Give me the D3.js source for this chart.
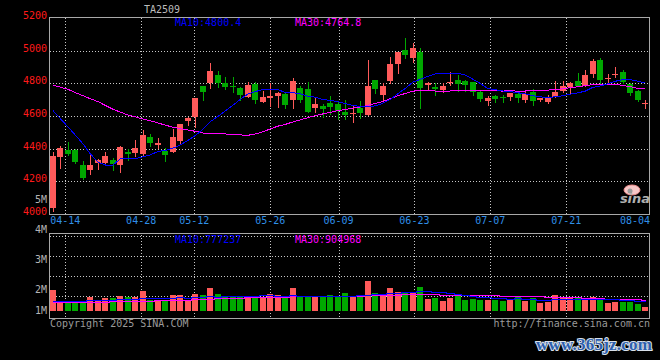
<!DOCTYPE html>
<html>
<head>
<meta charset="utf-8">
<script src="https://cdn.jsdelivr.net/npm/d3@7"></script>
<style>
  body { margin: 0; background: #000; }
  svg text { font-family: "DejaVu Sans Mono", monospace; font-size: 10px; }
</style>
</head>
<body>
<svg id="chart" width="660" height="360"></svg>
<script>
// daily bars, 04-10 .. 08-05
const open  = [4037,4351,4392,4392,4300,4269,4310,4310,4331,4303,4381,4375,4367,4471,4422,4388,4381,4449,4571,4596,
               4784,4804,4851,4800,4784,4773,4718,4796,4688,4708,4722,4732,4698,4770,4765,4647,4661,4678,4673,4626,
               4612,4647,4606,4820,4729,4814,4918,5004,4958,4992,4787,4777,4759,4800,4820,4814,4808,4749,4694,4722,
               4718,4718,4735,4698,4749,4698,4688,4718,4755,4779,4814,4784,4857,4943,4828,4855,4871,4796,4753,4680];
const high  = [4381,4418,4441,4396,4326,4365,4339,4378,4341,4416,4396,4453,4514,4490,4465,4404,4520,4551,4592,4712,
               4784,4926,4875,4837,4837,4780,4810,4810,4753,4804,4749,4747,4833,4784,4810,4718,4673,4722,4692,4698,
               4661,4692,4943,4820,4800,4963,4994,5077,5047,5016,4808,4799,4800,4871,4851,4820,4808,4759,4722,4729,
               4729,4741,4744,4759,4763,4712,4729,4814,4814,4810,4861,4882,4949,4957,4857,4902,4882,4800,4759,4698];
const low   = [4018,4283,4361,4310,4214,4245,4277,4310,4269,4259,4330,4355,4361,4416,4404,4326,4377,4429,4547,4535,
               4698,4770,4776,4763,4749,4698,4718,4680,4688,4661,4657,4652,4652,4688,4626,4624,4591,4615,4584,4584,
               4565,4588,4606,4743,4698,4800,4861,4953,4932,4647,4759,4729,4749,4790,4753,4753,4731,4692,4667,4688,
               4688,4700,4688,4688,4667,4692,4680,4718,4750,4735,4784,4784,4841,4800,4811,4837,4800,4729,4692,4651];
const close = [4355,4406,4367,4320,4222,4302,4331,4355,4306,4412,4367,4406,4484,4435,4435,4361,4471,4551,4590,4712,
               4749,4875,4800,4776,4776,4729,4790,4698,4718,4724,4741,4667,4814,4698,4626,4673,4645,4653,4631,4606,
               4621,4620,4784,4765,4785,4918,4994,4973,5016,4771,4799,4768,4784,4806,4796,4790,4749,4704,4712,4704,
               4712,4741,4708,4735,4692,4712,4710,4749,4784,4800,4786,4851,4937,4820,4833,4859,4810,4741,4698,4682];

const ma10 = [4633,4583,4533,4482,4429,4367,4318,4300,4300,4337.6,4338.8,4338.8,4350.5,4362.0,4383.3,4389.2,4403.2,4422.8,4451.2,4481.2,
              4519.4,4566.3,4597.9,4632.0,4666.1,4702.9,4734.8,4749.5,4762.3,4763.5,4762.7,4741.9,4743.3,4735.5,4720.5,4714.9,4700.4,4695.9,4687.2,4675.4,
              4663.4,4658.7,4655.7,4662.4,4678.3,4702.8,4737.7,4769.7,4808.2,4824.7,4842.5,4857.3,4857.3,4861.4,4862.5,4849.7,4825.2,4798.3,4767.9,4761.2,
              4752.5,4749.8,4742.2,4735.1,4724.7,4716.9,4713.0,4717.5,4724.7,4734.3,4741.7,4752.7,4775.6,4784.1,4798.2,4812.9,4822.9,4822.1,4813.5,4800.4];
const ma30 = [4789,4776,4763,4743,4724,4705,4688,4664,4641,4624,4606,4594,4582,4571,4557,4544,4531,4522,4514,4506,
              4496,4493,4492,4490,4487,4484,4482,4490,4503,4522,4538,4549.0,4563.9,4576.5,4590.0,4602.3,4612.8,4622.7,4633.6,4640.0,
              4648.5,4655.6,4665.6,4676.6,4688.3,4706.9,4724.3,4738.4,4752.6,4754.5,4756.2,4752.6,4752.1,4753.1,4753.8,4755.8,4754.4,4754.6,4754.4,4753.8,
              4752.8,4755.3,4751.7,4753.0,4755.2,4756.5,4758.6,4761.8,4766.9,4773.4,4778.9,4786.6,4791.7,4793.5,4795.1,4793.2,4787.0,4779.3,4768.7,4764.8];

// volume in thousands of lots
const volume = [1670,790,610,790,790,1130,790,1010,1010,1210,1130,1130,1590,870,870,870,1270,1270,870,1350,
                1270,1800,1350,1190,1190,1130,1130,1010,1010,1350,1270,1010,1850,1130,1130,1130,1130,1270,1210,1430,
                1210,1210,2380,1430,1270,1830,1530,1530,1400,1900,950,1060,790,1060,1190,870,950,870,870,870,
                790,950,1130,790,1010,660,740,1270,1060,1060,1130,950,1130,870,660,740,740,690,560,340];
const volMa10 = [800,800,800,820,820,850,850,880,900,920,940,970,1020,1040,1050,1030,1060,1090,1070,1090,
                 1100,1170,1140,1170,1200,1220,1210,1220,1240,1240,1230,1200,1250,1220,1220,1210,1190,1220,1220,1230,
                 1220,1240,1270,1330,1340,1410,1450,1490,1540,1600,1550,1510,1470,1390,1370,1280,1220,1150,1110,1010,
                 1000,990,1000,950,930,900,890,930,950,970,980,980,990,970,940,950,910,860,810,777.237];
const volMa30 = [700,700,710,720,720,730,740,750,760,770,780,800,820,830,840,860,880,900,910,930,
                 950,980,1000,1020,1040,1060,1080,1090,1100,1120,1130,1140,1170,1180,1190,1200,1200,1210,1210,1220,
                 1220,1220,1260,1270,1270,1290,1300,1310,1310,1330,1320,1310,1300,1300,1300,1290,1280,1270,1250,1240,
                 1230,1220,1220,1200,1190,1170,1150,1140,1120,1100,1080,1060,1050,1020,990,970,950,930,920,904.968];

const tickLabels = ["04-14","04-28","05-12","05-26","06-09","06-23","07-07","07-21","08-04"];
const tickIndex  = [2,12,19,29,38,48,58,68,78];
const priceTicks = [4000,4200,4400,4600,4800,5000,5200];
const volLabels  = ["1M","2M","3M","4M","5M"];
const volLabelValues = [1,2,3,4,5];

const RED = "#ff5a5a", GREEN = "#00a800", GRID = "#c8c8c8", FRAME = "#a8a8a8";
const svg = d3.select("#chart");
svg.append("rect").attr("width", 660).attr("height", 360).attr("fill", "#000");

const idx = d3.range(close.length);
const x = d3.scaleBand().domain(idx).range([49.25, 649.25]).paddingInner(0.2).paddingOuter(0.1);
const cx = i => x(i) + x.bandwidth() / 2;
const xGrid = d3.scaleLinear().domain([0, 79]).range([50.1, 649.7]);
const y = d3.scaleLinear().domain([4000, 5200]).range([214, 18]);
const yVol = d3.scaleLinear().domain([0, 6000]).range([311, 235.4]);
const yVolLabel = d3.scaleLinear().domain([1, 2, 3, 4, 5]).range([311, 290, 260, 230, 200]);
const yVolGrid = d3.scaleLinear().domain([0, 4]).range([315.5, 235.5]);

const px = v => Math.round(v) + 0.5;

// grids
const grid = svg.append("g").attr("stroke", GRID).attr("stroke-dasharray", "1,2").attr("shape-rendering", "crispEdges");
priceTicks.filter(d => d > 4000 && d < 5200).forEach(p => {
  grid.append("line").attr("x1", 50).attr("x2", 650).attr("y1", px(y(p))).attr("y2", px(y(p)));
});
[1, 2, 3, 4].forEach(g => {
  grid.append("line").attr("x1", 50).attr("x2", 650).attr("y1", px(yVolGrid(g))).attr("y2", px(yVolGrid(g)));
});
tickIndex.slice(0, -1).forEach(i => {
  grid.append("line").attr("x1", px(xGrid(i))).attr("x2", px(xGrid(i))).attr("y1", 18).attr("y2", 214);
  grid.append("line").attr("x1", px(xGrid(i))).attr("x2", px(xGrid(i))).attr("y1", 235).attr("y2", 318);
});

// frames
const frame = svg.append("g").attr("fill", "none").attr("stroke", FRAME).attr("shape-rendering", "crispEdges");
frame.append("rect").attr("x", 49.5).attr("y", 17.5).attr("width", 600).attr("height", 196.5);
frame.append("rect").attr("x", 49.5).attr("y", 233.5).attr("width", 600).attr("height", 84.5);

// candles
const col = i => close[i] >= open[i] ? RED : GREEN;
const cg = svg.append("g").attr("shape-rendering", "crispEdges");
idx.forEach(i => {
  const c = Math.floor(cx(i));
  cg.append("line").attr("x1", c + 0.5).attr("x2", c + 0.5)
    .attr("y1", Math.round(y(high[i]))).attr("y2", Math.round(y(low[i])) + 1)
    .attr("stroke", col(i));
  const top = Math.round(y(Math.max(open[i], close[i])));
  const bot = Math.round(y(Math.min(open[i], close[i])));
  cg.append("rect").attr("x", c - 3).attr("width", 6)
    .attr("y", top).attr("height", Math.max(1, bot - top))
    .attr("fill", col(i));
});

// price MAs
const lineP = arr => d3.line().x((d, i) => cx(i)).y(d => y(d))(arr);
svg.append("path").attr("d", lineP(ma30)).attr("fill", "none").attr("stroke", "#ff00ff").attr("stroke-width", 1).attr("shape-rendering", "crispEdges");
svg.append("path").attr("d", lineP(ma10)).attr("fill", "none").attr("stroke", "#0000ff").attr("stroke-width", 1).attr("shape-rendering", "crispEdges");

// volume bars
const vg = svg.append("g").attr("shape-rendering", "crispEdges");
idx.forEach(i => {
  const c = Math.floor(cx(i));
  const t = Math.round(yVol(volume[i]));
  vg.append("rect").attr("x", c - 3).attr("width", 6).attr("y", t).attr("height", 311 - t).attr("fill", col(i));
});
const lineV = arr => d3.line().x((d, i) => cx(i)).y(d => Math.round(yVol(d)) + 0.5).curve(d3.curveStep)(arr);
svg.append("path").attr("d", lineV(volMa30)).attr("fill", "none").attr("stroke", "#ff00ff").attr("stroke-width", 1).attr("shape-rendering", "crispEdges");
svg.append("path").attr("d", lineV(volMa10)).attr("fill", "none").attr("stroke", "#0000ff").attr("stroke-width", 1).attr("shape-rendering", "crispEdges");

// axis labels
svg.append("g").selectAll("text").data(priceTicks).join("text")
  .attr("x", 47).attr("y", d => y(d) - 2).attr("text-anchor", "end").attr("dominant-baseline", "middle")
  .attr("fill", "#ff1a1a").text(d => d);
svg.append("g").selectAll("text").data(volLabelValues).join("text")
  .attr("x", 47).attr("y", d => yVolLabel(d)).attr("text-anchor", "end").attr("dominant-baseline", "middle")
  .attr("fill", "#b4b4b4").text((d, i) => volLabels[i]);
svg.append("g").selectAll("text").data(tickIndex).join("text")
  .attr("x", d => Math.max(65, Math.min(635, xGrid(d)))).attr("y", 221)
  .attr("text-anchor", "middle").attr("dominant-baseline", "middle")
  .attr("fill", "#2f8fe8").text((d, i) => tickLabels[i]);

// legends
svg.append("text").attr("x", 162).attr("y", 10).attr("text-anchor", "middle").attr("dominant-baseline", "middle")
  .attr("fill", "#bbb").text("TA2509");
svg.append("text").attr("x", 175).attr("y", 23).attr("dominant-baseline", "middle").attr("fill", "#0000ff")
  .text("MA10:" + ma10[ma10.length - 1].toFixed(1));
svg.append("text").attr("x", 295).attr("y", 23).attr("dominant-baseline", "middle").attr("fill", "#ff00ff")
  .text("MA30:" + ma30[ma30.length - 1].toFixed(1));
svg.append("text").attr("x", 175).attr("y", 239.5).attr("dominant-baseline", "middle").attr("fill", "#0000ff")
  .text("MA10:" + Math.round(volMa10[volMa10.length - 1] * 1000));
svg.append("text").attr("x", 295).attr("y", 239.5).attr("dominant-baseline", "middle").attr("fill", "#ff00ff")
  .text("MA30:" + Math.round(volMa30[volMa30.length - 1] * 1000));

svg.append("text").attr("x", 50).attr("y", 324).attr("dominant-baseline", "middle").attr("fill", "#9a9a9a")
  .text("Copyright 2025 SINA.COM");
svg.append("text").attr("x", 650).attr("y", 324).attr("text-anchor", "end").attr("dominant-baseline", "middle")
  .attr("fill", "#9a9a9a").text("http://finance.sina.com.cn");

// sina logo
const logo = svg.append("g");
logo.append("ellipse").attr("cx", 632).attr("cy", 190).attr("rx", 8).attr("ry", 5)
  .attr("fill", "#f6c6c6").attr("stroke", "#ee8d8d");
logo.append("circle").attr("cx", 630).attr("cy", 191).attr("r", 2.5).attr("fill", "#999");
logo.append("text").attr("x", 635).attr("y", 203).attr("text-anchor", "middle")
  .style("font-family", "DejaVu Sans").style("font-size", "13px").style("font-style", "italic").style("font-weight", "bold")
  .attr("fill", "#b0b0b0").text("sina");

// watermark
svg.append("text").attr("x", 536).attr("y", 350).attr("textLength", 116)
  .style("font-family", "Liberation Serif").style("font-size", "17px").style("font-weight", "bold")
  .attr("fill", "#2d5fae").attr("stroke", "#d8e0ea").attr("stroke-width", 2).attr("paint-order", "stroke")
  .text("www.365jz.com");
</script>
</body>
</html>
